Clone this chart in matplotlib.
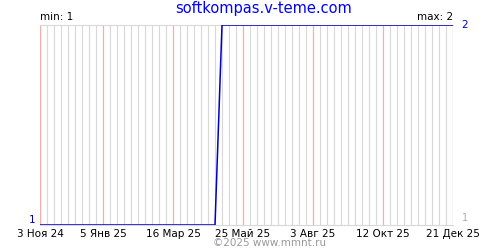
import datetime as dt

import matplotlib
matplotlib.use('Agg')
import matplotlib.pyplot as plt

# weekly points
dates = [dt.date(2024, 11, 3), dt.date(2025, 4, 27), dt.date(2025, 5, 4), dt.date(2025, 12, 21)]
values = [1, 1, 2, 2]

start = dt.date(2024, 11, 3)
end = dt.date(2025, 12, 21)
label_dates = [dt.date(2024, 11, 3), dt.date(2025, 1, 5), dt.date(2025, 3, 16),
               dt.date(2025, 5, 25), dt.date(2025, 8, 3), dt.date(2025, 10, 12),
               dt.date(2025, 12, 21)]
label_texts = ['3 Ноя 24', '5 Янв 25', '16 Мар 25', '25 Май 25', '3 Авг 25', '12 Окт 25', '21 Дек 25']

fig = plt.figure(figsize=(5, 2.5), dpi=100)
ax = fig.add_axes([40 / 500, 25 / 250, 413 / 500, 200 / 250])

# weekly grid, pink on the labelled weeks
week = start
while week <= end:
    if week in label_dates:
        ax.axvline(week, color='#ffaaaa', lw=0.9, zorder=2, snap=True)
    else:
        ax.axvline(week, color='#d8d8d8', lw=0.8, zorder=1, snap=True)
    week += dt.timedelta(days=7)

ax.plot(dates, values, color='#0000cc', lw=1.1, zorder=3, solid_capstyle='butt')

ax.set_xlim(start, end)
ax.set_ylim(1, 2)
for s in ['left', 'right']:
    ax.spines[s].set_visible(False)
for s in ['top', 'bottom']:
    ax.spines[s].set_color('#d8d8d8')
    ax.spines[s].set_linewidth(0.8)
ax.set_yticks([])
ax.set_xticks(label_dates)
ax.set_xticklabels(label_texts, fontsize=7.5)
ax.tick_params(axis='x', length=0, pad=3)

ax.text(0, 1.015, 'min: 1', transform=ax.transAxes, fontsize=7.5, ha='left', va='bottom')
ax.text(1, 1.015, 'max: 2', transform=ax.transAxes, fontsize=7.5, ha='right', va='bottom')
ax.text(-0.012, 0, '1', transform=ax.transAxes, fontsize=7.5, color='#0000cc', ha='right', va='bottom')
ax.text(1.02, 1, '2', transform=ax.transAxes, fontsize=7.5, color='#0000cc', ha='left', va='center')
ax.text(1.022, 0.01, '1', transform=ax.transAxes, fontsize=7, color='#aaaaaa', ha='left', va='bottom')

fig.text(0.527, 1 - 8 / 250, 'softkompas.v-teme.com', fontsize=10.5, color='#0000ff', ha='center', va='center')
fig.text(0.54, 1 - 243 / 250, '©2025 www.mmnt.ru', fontsize=7.5, color='#999999', ha='center', va='center')

fig.savefig('out.png', dpi=100)
